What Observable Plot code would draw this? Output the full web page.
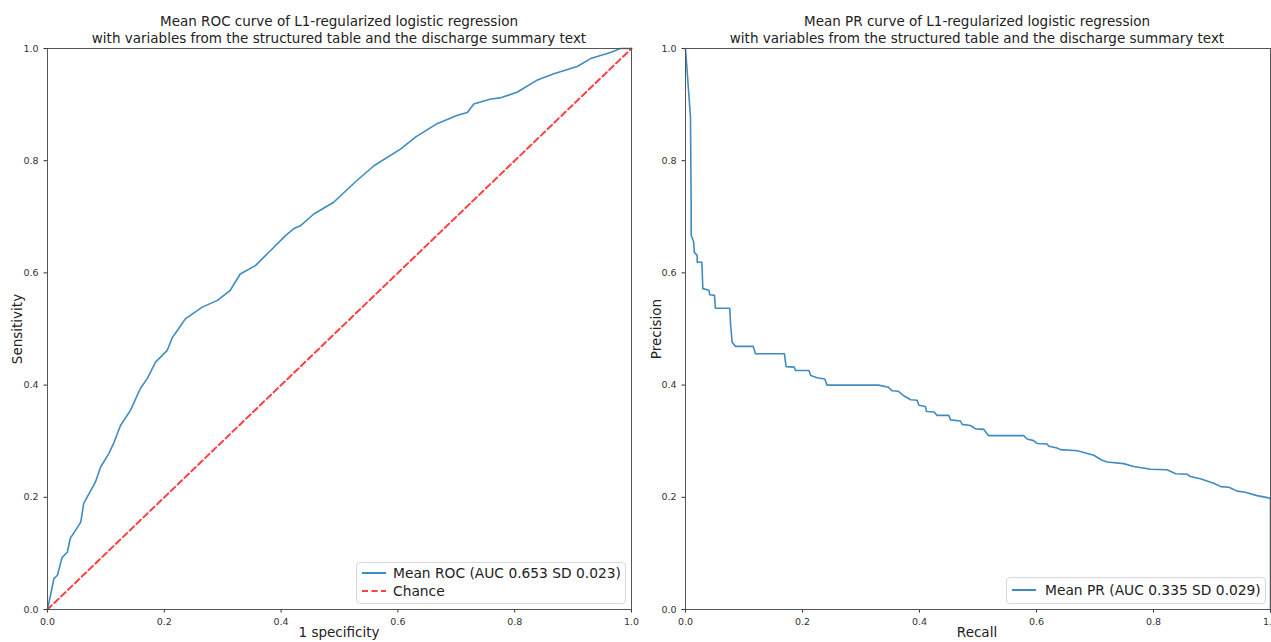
<!DOCTYPE html>
<html>
<head>
<meta charset="utf-8">
<script src="https://cdn.jsdelivr.net/npm/d3@7"></script>
<script src="https://cdn.jsdelivr.net/npm/@observablehq/plot@0.6"></script>
<style>
  html, body { margin: 0; padding: 0; background: #fff; }
  #root { position: relative; width: 1271px; height: 642px; overflow: hidden; font-family: "DejaVu Sans", sans-serif; color: #222; }
  .abs { position: absolute; white-space: nowrap; }
  .title { font-size: 13.5px; text-align: center; line-height: 17px; transform: translateX(-50%); }
  .alabel { font-size: 13.5px; }
  .legend { position: absolute; border: 1px solid #d8d8d8; border-radius: 4px; background: rgba(255,255,255,0.8); font-size: 13.8px; }
  .legrow { position: absolute; left: 0; height: 18px; display: flex; align-items: center; }
  .legrow svg { margin-left: 5px; margin-right: 7px; }
</style>
</head>
<body>
<div id="root"></div>
<script>
// ROC (mean) values
const rocFpr = [0, 0.005, 0.011, 0.017, 0.025, 0.034, 0.039, 0.048, 0.057, 0.062, 0.074, 0.082, 0.091, 0.105, 0.114, 0.125, 0.142, 0.159, 0.171, 0.185, 0.205, 0.214, 0.222, 0.236, 0.265, 0.291, 0.313, 0.330, 0.356, 0.382, 0.408, 0.422, 0.433, 0.456, 0.490, 0.527, 0.559, 0.605, 0.630, 0.667, 0.702, 0.719, 0.730, 0.759, 0.776, 0.804, 0.839, 0.867, 0.907, 0.930, 0.964, 0.981, 1.0];
const rocTpr = [0, 0.025, 0.055, 0.061, 0.093, 0.102, 0.127, 0.141, 0.156, 0.189, 0.212, 0.227, 0.254, 0.278, 0.298, 0.328, 0.355, 0.394, 0.412, 0.441, 0.462, 0.485, 0.497, 0.518, 0.539, 0.551, 0.569, 0.598, 0.613, 0.640, 0.667, 0.679, 0.684, 0.705, 0.726, 0.762, 0.791, 0.821, 0.842, 0.866, 0.881, 0.886, 0.901, 0.910, 0.912, 0.922, 0.944, 0.955, 0.968, 0.982, 0.993, 1.0, 1.0];
const chanceX = [0, 1];
const chanceY = [0, 1];

// PR (mean) values
const prRecall = [0, 0.0085, 0.0097, 0.0097, 0.014, 0.015, 0.020, 0.020, 0.028, 0.0296, 0.040, 0.0415, 0.0496, 0.051, 0.0757, 0.077, 0.0798, 0.0855, 0.1157, 0.1197, 0.169, 0.172, 0.186, 0.188, 0.211, 0.214, 0.225, 0.238, 0.242, 0.330, 0.347, 0.353, 0.364, 0.373, 0.385, 0.396, 0.399, 0.410, 0.412, 0.425, 0.430, 0.450, 0.453, 0.470, 0.473, 0.487, 0.496, 0.510, 0.518, 0.578, 0.584, 0.595, 0.601, 0.618, 0.621, 0.635, 0.641, 0.670, 0.698, 0.712, 0.721, 0.749, 0.766, 0.795, 0.823, 0.838, 0.858, 0.863, 0.880, 0.903, 0.915, 0.929, 0.943, 0.957, 0.977, 0.997, 1.0, 1.0];
const prPrecision = [1.0, 0.878, 0.717, 0.667, 0.655, 0.637, 0.631, 0.619, 0.619, 0.572, 0.569, 0.561, 0.560, 0.537, 0.537, 0.509, 0.476, 0.469, 0.469, 0.456, 0.456, 0.433, 0.432, 0.426, 0.426, 0.417, 0.413, 0.411, 0.400, 0.400, 0.396, 0.390, 0.389, 0.381, 0.374, 0.373, 0.364, 0.362, 0.353, 0.352, 0.346, 0.346, 0.338, 0.336, 0.330, 0.328, 0.322, 0.321, 0.310, 0.310, 0.304, 0.301, 0.296, 0.295, 0.291, 0.288, 0.285, 0.283, 0.275, 0.266, 0.263, 0.260, 0.255, 0.250, 0.249, 0.242, 0.241, 0.237, 0.233, 0.225, 0.219, 0.218, 0.211, 0.209, 0.203, 0.199, 0.197, 0.0];

const tickValues = [0, 0.2, 0.4, 0.6, 0.8, 1.0];
const tickLabels = ["0.0", "0.2", "0.4", "0.6", "0.8", "1.0"];

const rocData = rocFpr.map((x, i) => ({x, y: rocTpr[i]}));
const chanceData = chanceX.map((x, i) => ({x, y: chanceY[i]}));
const prData = prRecall.map((x, i) => ({x, y: prPrecision[i]}));

const BLUE = "#1f77b4";
const root = document.getElementById("root");

function scaleOpts() {
  return {
    domain: [0, 1],
    ticks: tickValues,
    tickFormat: d => tickLabels[tickValues.indexOf(d)] ?? d3.format(".1f")(d),
    tickSize: 3.5,
    label: null
  };
}

function makePlot(marks, w, ml, mr) {
  return Plot.plot({
    width: w, height: 642,
    marginLeft: ml, marginRight: mr, marginTop: 48, marginBottom: 33,
    x: scaleOpts(), y: scaleOpts(),
    style: { fontFamily: "DejaVu Sans, sans-serif", fontSize: "9.5px", color: "#333", background: "transparent", overflow: "visible" },
    marks: [
      ...marks,
      Plot.frame({ stroke: "#555", strokeWidth: 1 })
    ]
  });
}

const left = makePlot([
  Plot.line(chanceData, { x: "x", y: "y", stroke: "red", strokeOpacity: 0.75, strokeWidth: 2, strokeDasharray: "6,3.5" }),
  Plot.line(rocData, { x: "x", y: "y", stroke: BLUE, strokeOpacity: 0.85, strokeWidth: 1.6 })
], 640, 47, 9);
left.style.position = "absolute"; left.style.left = "0px"; left.style.top = "0px";
root.appendChild(left);

const right = makePlot([
  Plot.line(prData, { x: "x", y: "y", stroke: BLUE, strokeOpacity: 0.85, strokeWidth: 1.6 })
], 631, 45, 1);
right.style.position = "absolute"; right.style.left = "640px"; right.style.top = "0px";
root.appendChild(right);

function addDiv(cls, html, css) {
  const d = document.createElement("div");
  d.className = cls;
  d.innerHTML = html;
  Object.assign(d.style, css);
  root.appendChild(d);
  return d;
}

// Titles
addDiv("abs title", "Mean ROC curve of L1-regularized logistic regression<br>with variables from the structured table and the discharge summary text", { left: "339px", top: "13px" });
addDiv("abs title", "Mean PR curve of L1-regularized logistic regression<br>with variables from the structured table and the discharge summary text", { left: "977px", top: "13px" });

// Axis labels
addDiv("abs alabel", "1 specificity", { left: "339px", top: "624px", transform: "translateX(-50%)" });
addDiv("abs alabel", "Recall", { left: "977px", top: "624px", transform: "translateX(-50%)" });
addDiv("abs alabel", "Sensitivity", { left: "17px", top: "329px", transform: "translate(-50%,-50%) rotate(-90deg)" });
addDiv("abs alabel", "Precision", { left: "656px", top: "329px", transform: "translate(-50%,-50%) rotate(-90deg)" });

// Legends
function lineSample(stroke, dash, opacity) {
  return `<svg width="24" height="10"><line x1="0" y1="5" x2="24" y2="5" stroke="${stroke}" stroke-opacity="${opacity}" stroke-width="2" ${dash ? `stroke-dasharray="${dash}"` : ""}/></svg>`;
}
const lg1 = addDiv("legend", "", { left: "356px", top: "562px", width: "268px", height: "40px" });
lg1.innerHTML = `<div class="legrow" style="top:1px">${lineSample(BLUE, null, 0.85)}<span>Mean ROC (AUC 0.653 SD 0.023)</span></div>
<div class="legrow" style="top:19px">${lineSample("red", "6,3.5", 0.75)}<span>Chance</span></div>`;
const lg2 = addDiv("legend", "", { left: "1006px", top: "577px", width: "258px", height: "25px" });
lg2.innerHTML = `<div class="legrow" style="top:3px">${lineSample(BLUE, null, 0.85)}<span style="margin-left:2px">Mean PR (AUC 0.335 SD 0.029)</span></div>`;
</script>
</body>
</html>
